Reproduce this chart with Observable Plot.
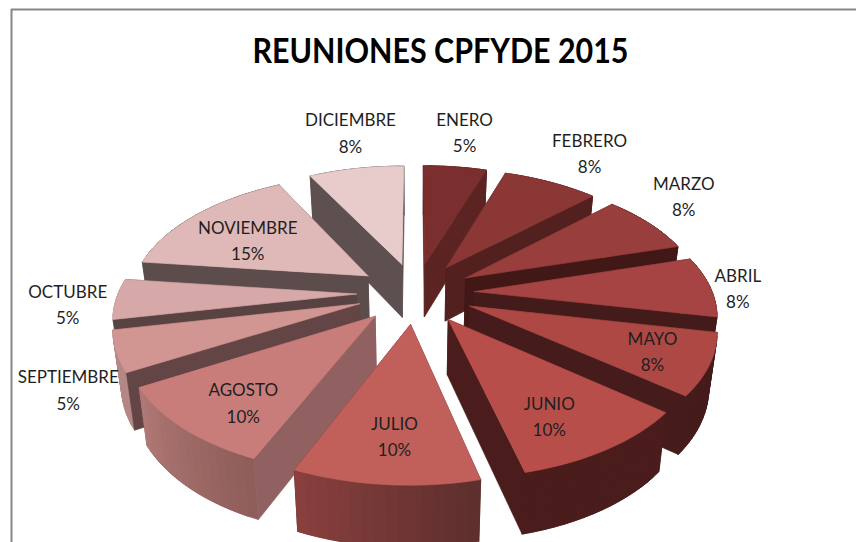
<!DOCTYPE html>
<html><head><meta charset="utf-8">
<style>html,body{margin:0;padding:0;background:#fff}svg{display:block}</style>
<script src="https://cdn.jsdelivr.net/npm/d3@7"></script>
<script src="https://cdn.jsdelivr.net/npm/@observablehq/plot@0.6"></script>
</head><body><div id="chart"></div>
<script>
const months = ["ENERO","FEBRERO","MARZO","ABRIL","MAYO","JUNIO","JULIO","AGOSTO","SEPTIEMBRE","OCTUBRE","NOVIEMBRE","DICIEMBRE"];
const meetings = [2,3,3,3,3,4,4,4,2,2,6,3];
const percents = ["5%","8%","8%","8%","8%","10%","10%","10%","5%","5%","15%","8%"];
const topColors = ["#7a2e2d","#8a3735","#983e3c","#a54442","#ad4845","#b84e4a","#c1605b","#c97d7a","#d19592","#d6a8a7","#dfb9b8","#e8cccc"];
const wallColors = ["#5b2422","#52201f","#411816","#421b1a","#451b1b","#4a1c1c","#5a2d2d","#916060","#634545","#594242","#5d4c4c","#5e5050"];
const outerStart = ["#5b2422","#52201f","#411816","#421b1a","#451b1b","#4a1c1c","#5c2e2d","#8e5c59","#b58785","#b58785","#5d4c4c","#5e5050"];
const outerEnd = ["#5b2422","#52201f","#411816","#421b1a","#451b1b","#4a1c1c","#8a403d","#b07975","#b58785","#b58785","#5d4c4c","#5e5050"];
// label placement around the pie: bearing (degrees clockwise from top) and distance
const labelBearing = [9,32.9,55.3,88.7,115.8,150.9,184.3,218.7,241.4,266.1,300.9,348.1];
const labelDistance = [398,393,374,324,244,236,235,240,350,343,210,400];

const W = 856, H = 542;
const cx = 415, cy = 292.3, b = 0.516, k = 6.87e-4, R = 238, E = 59;
const total = d3.sum(meetings);

function project(X, Y) {
  const s = 1 / (1 - k * Y);
  return {x: cx + X * s, y: cy + b * Y * s, s};
}
function down(p) {
  return {x: p.x + (cx - p.x) * 0.028, y: p.y + 53 + (p.s - 0.96) * 31};
}
function slicePoint(r, a, mid) {
  const X = r * Math.sin(a) + E * Math.sin(mid);
  const Y = -r * Math.cos(a) - E * Math.cos(mid);
  return project(X, Y);
}

let acc = 0;
const slices = months.map((m, i) => {
  const a0 = acc / total * 2 * Math.PI;
  acc += meetings[i];
  const a1 = acc / total * 2 * Math.PI;
  return {i, a0, a1, mid: (a0 + a1) / 2};
});
const order = slices.slice().sort((p, q) => Math.cos(q.mid) - Math.cos(p.mid));

const polys = [];
let pid = 0;
function addPoly(points, fill, stroke) {
  const id = pid++;
  for (const p of points.concat([points[0]])) polys.push({id, x: p.x, y: p.y, fill, stroke});
}
function radialWall(s, a) {
  const tip = slicePoint(0, a, s.mid), rim = slicePoint(R, a, s.mid);
  return [tip, rim, down(rim), down(tip)];
}
for (const s of order) {
  const steps = 16;
  const arc = d3.range(steps + 1).map(j => slicePoint(R, s.a0 + (s.a1 - s.a0) * j / steps, s.mid));
  // a cut face shows only when its outward side turns toward the viewer
  const faces = [
    {poly: radialWall(s, s.a0), visible: -Math.sin(s.a0) > 0},
    {poly: radialWall(s, s.a1), visible: Math.sin(s.a1) > 0}
  ];
  for (const f of faces) if (!f.visible) addPoly(f.poly, wallColors[s.i], wallColors[s.i]);
  const shade = d3.interpolateRgb(outerStart[s.i], outerEnd[s.i]);
  // each band runs on under the next one, so no seams show between them
  for (let j = 0; j < steps; j++) {
    const c = shade((j + 0.5) / steps);
    const band = arc.slice(j, Math.min(j + 3, steps + 1));
    addPoly([...band, ...band.slice().reverse().map(down)], c, c);
  }
  for (const f of faces) if (f.visible) addPoly(f.poly, wallColors[s.i], wallColors[s.i]);
  addPoly([slicePoint(0, s.a0, s.mid), ...arc], topColors[s.i], topColors[s.i]);
}

const labels = months.map((m, i) => {
  const a = labelBearing[i] * Math.PI / 180;
  const p = project(labelDistance[i] * Math.sin(a), -labelDistance[i] * Math.cos(a));
  return {x: p.x, y: p.y, text: m + "\n" + percents[i]};
});

const frameLeft = 11, frameTop = 9;
const plot = Plot.plot({
  width: W, height: H,
  margin: 0,
  x: {domain: [0, W], range: [0, W], axis: null},
  y: {domain: [0, H], range: [0, H], axis: null},
  color: {type: "identity"},
  marks: [
    Plot.ruleX([frameLeft], {y1: frameTop, y2: H, stroke: "#868686", strokeWidth: 2}),
    Plot.ruleY([frameTop], {x1: frameLeft, x2: W, stroke: "#868686", strokeWidth: 2}),
    Plot.line(polys, {x: "x", y: "y", z: "id", fill: "fill", stroke: "stroke", strokeWidth: 0.7, strokeLinejoin: "round"}),
    Plot.text(labels, {x: "x", y: "y", dy: -2.5, text: "text", fontSize: 17, lineHeight: 1.55, fill: "#1f1f1f",
      fontFamily: "Lato, 'Open Sans', sans-serif", textAnchor: "middle"}),
    Plot.text(["REUNIONES CPFYDE 2015"], {x: () => 440, y: () => 52, text: d => d, fontSize: 34, fontWeight: 700, fill: "#000",
      fontFamily: "Lato, 'Open Sans', sans-serif", textAnchor: "middle", className: "chart-title"})
  ]
});
plot.querySelectorAll(".chart-title text").forEach(t => {
  t.setAttribute("textLength", 376);
  t.setAttribute("lengthAdjust", "spacingAndGlyphs");
});
document.getElementById("chart").appendChild(plot);
</script>
</body></html>
